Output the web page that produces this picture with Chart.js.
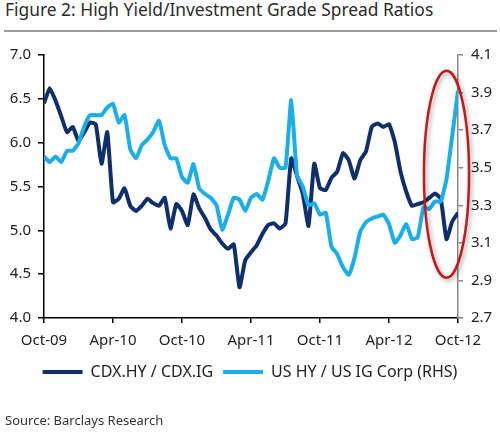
<!DOCTYPE html>
<html>
<head>
<meta charset="utf-8">
<title>High Yield/Investment Grade Spread Ratios</title>
<script src="https://cdn.jsdelivr.net/npm/chart.js@4.4.1/dist/chart.umd.min.js"></script>
<style>
    html, body { margin: 0; padding: 0; background: #fff; }
    .wrap { position: relative; width: 500px; height: 437px; font-family: "Noto Sans", sans-serif; }
    .fig-title { position: absolute; left: 5px; top: -3px; font-size: 17.4px; color: #2b2b2b; white-space: nowrap; }
    .fig-rule { position: absolute; left: 4px; right: 3px; top: 30px; height: 2px; background: #9a9a9a; }
    .fig-source { position: absolute; left: 5px; top: 411px; font-size: 13px; color: #333; white-space: nowrap; }
    .chart-box { position: absolute; left: 0; top: 0; width: 500px; height: 437px; }
</style>
</head>
<body>
<div class="wrap">
    <div class="fig-title">Figure 2: High Yield/Investment Grade Spread Ratios</div>
    <div class="fig-rule"></div>
    <div class="chart-box"><canvas id="spreadChart"></canvas></div>
    <div class="fig-source">Source: Barclays Research</div>
</div>

<script>
// =================================================================
// 데이터 (반월 간격, Oct-09 ~ Oct-12)
// =================================================================
const xTickLabels = ['Oct-09', 'Apr-10', 'Oct-10', 'Apr-11', 'Oct-11', 'Apr-12', 'Oct-12'];
const monthsPerTick = 6;
const monthsPerPoint = 0.5;

const leftTicks = [4.0, 4.5, 5.0, 5.5, 6.0, 6.5, 7.0];
const rightTicks = [2.7, 2.9, 3.1, 3.3, 3.5, 3.7, 3.9, 4.1];

// CDX.HY / CDX.IG (왼쪽 축)
const cdxRatio = [
    6.45, 6.62, 6.48, 6.30, 6.12, 6.18, 6.02, 6.12, 6.23, 6.21,
    5.76, 6.12, 5.32, 5.36, 5.48, 5.28, 5.22, 5.28, 5.36, 5.31,
    5.28, 5.37, 5.02, 5.30, 5.22, 5.06, 5.41, 5.25, 5.14, 5.01,
    4.94, 4.85, 4.79, 4.84, 4.35, 4.66, 4.75, 4.83, 4.96, 5.06,
    5.08, 5.02, 5.08, 5.82, 5.62, 5.42, 5.05, 5.76, 5.48, 5.46,
    5.60, 5.67, 5.88, 5.80, 5.59, 5.80, 5.90, 6.18, 6.22, 6.18,
    6.21, 6.01, 5.67, 5.44, 5.28, 5.30, 5.32, 5.37, 5.42, 5.36,
    4.90, 5.10, 5.20
];

// US HY / US IG Corp (오른쪽 축, RHS)
const cashRatio = [
    3.56, 3.53, 3.56, 3.53, 3.59, 3.59, 3.63, 3.72, 3.78, 3.78,
    3.78, 3.82, 3.84, 3.74, 3.78, 3.60, 3.55, 3.62, 3.65, 3.69,
    3.75, 3.62, 3.55, 3.55, 3.45, 3.42, 3.52, 3.39, 3.36, 3.34,
    3.30, 3.17, 3.25, 3.34, 3.33, 3.27, 3.34, 3.36, 3.33, 3.43,
    3.55, 3.50, 3.50, 3.86, 3.46, 3.40, 3.30, 3.31, 3.25, 3.26,
    3.08, 3.04, 2.97, 2.93, 3.02, 3.16, 3.21, 3.23, 3.24, 3.25,
    3.20, 3.10, 3.14, 3.20, 3.12, 3.13, 3.29, 3.28, 3.32, 3.32,
    3.44, 3.67, 3.91
];

// 빨간 타원 강조 영역 (최근 구간)
const highlight = { month: 35, value: 5.64, halfMonths: 1.96, halfValue: 1.18 };

const toPoints = arr => arr.map((v, i) => ({ x: i * monthsPerPoint, y: v }));

// =================================================================
// 강조 타원 플러그인
// =================================================================
const ellipsePlugin = {
    id: 'ellipseMark',
    afterDatasetsDraw(chart) {
        const { ctx, scales } = chart;
        const cx = scales.x.getPixelForValue(highlight.month);
        const cy = scales.y.getPixelForValue(highlight.value);
        const rx = scales.x.getPixelForValue(highlight.month + highlight.halfMonths) - cx;
        const ry = scales.y.getPixelForValue(highlight.value - highlight.halfValue) - cy;
        ctx.save();
        ctx.shadowColor = 'rgba(0,0,0,0.35)';
        ctx.shadowBlur = 4;
        ctx.shadowOffsetX = 2;
        ctx.shadowOffsetY = 2;
        ctx.strokeStyle = '#c01a1a';
        ctx.lineWidth = 2.5;
        ctx.beginPath();
        ctx.ellipse(cx, cy, rx, ry, 0, 0, Math.PI * 2);
        ctx.stroke();
        ctx.restore();
    }
};

const tickFont = { family: '"Noto Sans", sans-serif', size: 15 };

new Chart(document.getElementById('spreadChart'), {
    type: 'line',
    data: {
        datasets: [
            {
                label: 'CDX.HY / CDX.IG',
                data: toPoints(cdxRatio),
                yAxisID: 'y',
                borderColor: '#0f2f6b',
                backgroundColor: '#0f2f6b',
                borderWidth: 4,
                pointRadius: 0,
                tension: 0.15,
                order: 2
            },
            {
                label: 'US HY / US IG Corp (RHS)',
                data: toPoints(cashRatio),
                yAxisID: 'y2',
                borderColor: '#1caee8',
                backgroundColor: '#1caee8',
                borderWidth: 4,
                pointRadius: 0,
                tension: 0.15,
                order: 1
            }
        ]
    },
    options: {
        responsive: true,
        maintainAspectRatio: false,
        animation: false,
        layout: { padding: { top: 55, left: 0, right: 0, bottom: 47 } },
        plugins: {
            tooltip: { enabled: false },
            legend: {
                position: 'bottom',
                labels: {
                    boxWidth: 40,
                    boxHeight: 4,
                    padding: 10,
                    color: '#222',
                    font: { family: '"Noto Sans", sans-serif', size: 16 },
                    sort: (a, b) => a.datasetIndex - b.datasetIndex,
                    generateLabels(chart) {
                        return Chart.defaults.plugins.legend.labels.generateLabels(chart)
                            .map(l => ({ ...l, lineWidth: 0, fillStyle: l.strokeStyle }));
                    }
                }
            }
        },
        scales: {
            x: {
                type: 'linear',
                min: 0,
                max: (xTickLabels.length - 1) * monthsPerTick,
                afterBuildTicks: axis => { axis.ticks = xTickLabels.map((_, i) => ({ value: i * monthsPerTick })); },
                afterFit: axis => { axis.height = 36; },
                ticks: {
                    color: '#222',
                    font: tickFont,
                    padding: 9,
                    maxRotation: 0,
                    callback: v => xTickLabels[Math.round(v / monthsPerTick)]
                },
                grid: { drawOnChartArea: false, drawTicks: true, tickLength: 5, color: '#000', lineWidth: 1.5 },
                border: { display: true, color: '#000', width: 1.5 }
            },
            y: {
                position: 'left',
                min: leftTicks[0],
                max: leftTicks[leftTicks.length - 1],
                afterBuildTicks: axis => { axis.ticks = leftTicks.map(v => ({ value: v })); },
                afterFit: axis => { axis.width = 44; },
                ticks: { color: '#222', font: tickFont, padding: 7, callback: v => v.toFixed(1) },
                grid: { drawOnChartArea: false, drawTicks: true, tickLength: 6, color: '#000', lineWidth: 1.5 },
                border: { display: true, color: '#000', width: 1.5 }
            },
            y2: {
                position: 'right',
                min: rightTicks[0],
                max: rightTicks[rightTicks.length - 1],
                afterBuildTicks: axis => { axis.ticks = rightTicks.map(v => ({ value: v })); },
                afterFit: axis => { axis.width = 42; },
                ticks: { color: '#222', font: tickFont, padding: 8, callback: v => v.toFixed(1) },
                grid: { drawOnChartArea: false, drawTicks: true, tickLength: 5, color: '#888', lineWidth: 1.5 },
                border: { display: true, color: '#888', width: 1.5 }
            }
        }
    },
    plugins: [ellipsePlugin]
});
</script>
</body>
</html>
